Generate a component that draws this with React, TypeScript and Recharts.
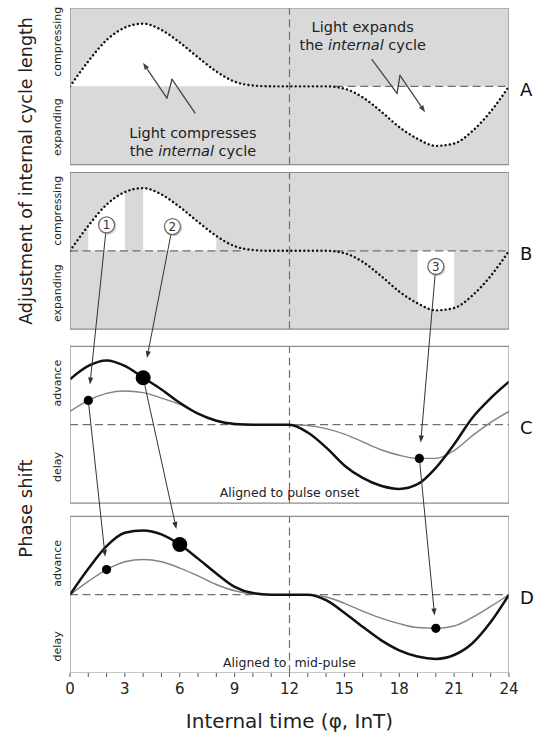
import React from 'react';
import {
    ComposedChart,
    Line,
    Area,
    XAxis,
    YAxis,
    ReferenceLine,
    ReferenceDot,
} from 'recharts';

const hours = [0, 1, 2, 3, 4, 5, 6, 7, 8, 9, 10, 11, 12, 13, 14, 15, 16, 17, 18, 19, 20, 21, 22, 23, 24];

// light-driven adjustment of the internal cycle (+ compressing, - expanding)
const cycleAdjustment = [0, 0.32, 0.59, 0.75, 0.8, 0.72, 0.56, 0.37, 0.19, 0.06, 0.01, 0, 0, 0, 0, -0.03, -0.14, -0.32, -0.52, -0.67, -0.76, -0.73, -0.57, -0.32, 0];

// phase shift, aligned to pulse onset
const onsetLongPulse = [0.58, 0.75, 0.82, 0.75, 0.6, 0.45, 0.28, 0.14, 0.05, 0.01, 0, 0, 0, -0.1, -0.29, -0.52, -0.68, -0.78, -0.82, -0.76, -0.55, -0.25, 0.09, 0.34, 0.55];
const onsetShortPulse = [0.17, 0.31, 0.4, 0.43, 0.41, 0.34, 0.26, 0.14, 0.05, 0.01, 0, 0, 0, -0.01, -0.05, -0.12, -0.22, -0.32, -0.39, -0.43, -0.43, -0.33, -0.14, 0.03, 0.17];

// phase shift, aligned to mid-pulse
const midLongPulse = [0, 0.33, 0.62, 0.79, 0.82, 0.77, 0.64, 0.46, 0.27, 0.1, 0.02, 0, 0, 0, -0.07, -0.23, -0.41, -0.58, -0.71, -0.79, -0.82, -0.77, -0.62, -0.35, 0];
const midShortPulse = [0, 0.17, 0.32, 0.42, 0.45, 0.42, 0.34, 0.24, 0.13, 0.05, 0.01, 0, 0, 0, -0.03, -0.11, -0.21, -0.3, -0.37, -0.42, -0.43, -0.4, -0.29, -0.15, 0];

// the three example pulses
const pulseStart = [1, 4, 19];
const pulseEnd = [3, 8, 21];
const pulseLabels = ['1', '2', '3'];
const pulseBadgeTime = [2, 5.6, 20];
const pulseBadgeValue = [0.33, 0.31, -0.2];

const onsetDotTime = [1, 4, 19.1];
const onsetDotValue = [0.31, 0.6, -0.43];
const midDotTime = [2, 6, 20];
const midDotValue = [0.32, 0.64, -0.43];
const dotIsLong = [false, true, false];

const labelledHours = [0, 3, 6, 9, 12, 15, 18, 21, 24];

// vertical stacking of the four panels on one shared y scale
type PanelId = 'A' | 'B' | 'C' | 'D';
const PANEL: Record<PanelId, number> = { A: 6.49, B: 4.39, C: 2.17, D: 0 };
const Y_DOMAIN: [number, number] = [-1, 7.49];
const lift = (p: PanelId, v: number) => PANEL[p] + v;

const FONT = 'DejaVu Sans';
const GRAY_BG = '#d9d9d9';
const BORDER = '#8c8c8c';
const DASH = '#6f6f6f';
const DASH_PATTERN = '8 4.5';
const INK = '#111';
const THIN = '#828282';
const ARROW = '#333';

const curveRows = (p: PanelId, values: number[]) =>
    hours.map((t, i) => ({ t, y: lift(p, values[i]) }));

const bandRows = (p: PanelId, values: number[], from = 0, to = 24) =>
    hours
        .map((t, i) => ({ t, band: [lift(p, 0), lift(p, values[i])] }))
        .filter((r) => r.t >= from && r.t <= to);

const boxRows = (p: PanelId) => {
    const c = PANEL[p];
    return [
        { t: 0, y: c - 1 },
        { t: 24, y: c - 1 },
        { t: 24, y: c + 1 },
        { t: 0, y: c + 1 },
        { t: 0, y: c - 1 },
    ];
};

const fillRows = (p: PanelId) => {
    const c = PANEL[p];
    return [
        { t: 0, band: [c - 1, c + 1] },
        { t: 24, band: [c - 1, c + 1] },
    ];
};

const badgeRows = pulseLabels.map((n, i) => ({ t: pulseBadgeTime[i], y: lift('B', pulseBadgeValue[i]), n }));
const onsetDotRows = onsetDotTime.map((t, i) => ({ t, y: lift('C', onsetDotValue[i]), big: dotIsLong[i] }));
const midDotRows = midDotTime.map((t, i) => ({ t, y: lift('D', midDotValue[i]), big: dotIsLong[i] }));

// rotated labels along the left edge
const sideLabels = [
    { value: lift('A', 0.57), text: 'compressing', x: 58, size: 11 },
    { value: lift('A', -0.52), text: 'expanding', x: 58, size: 11 },
    { value: lift('B', 0.51), text: 'compressing', x: 58, size: 11 },
    { value: lift('B', -0.54), text: 'expanding', x: 58, size: 11 },
    { value: lift('C', 0.53), text: 'advance', x: 58, size: 11 },
    { value: lift('C', -0.54), text: 'delay', x: 58, size: 11 },
    { value: lift('D', 0.4), text: 'advance', x: 58, size: 11 },
    { value: lift('D', -0.66), text: 'delay', x: 58, size: 11 },
    { value: 5.41, text: 'Adjustment of internal cycle length', x: 26, size: 17.5 },
    { value: 1.1, text: 'Phase shift', x: 26, size: 18 },
];

const panelIds: PanelId[] = ['A', 'B', 'C', 'D'];

// lightning-style arrows in panel A (time, value in panel A units)
const boltLeft = [
    [6.83, -0.34],
    [5.58, 0.09],
    [5.3, -0.15],
    [3.99, 0.3],
];
const boltRight = [
    [16.51, 0.34],
    [17.88, -0.09],
    [18.04, 0.14],
    [19.41, -0.33],
];

function arrowShape(startGap: number, endGap: number, color = ARROW, width = 1) {
    return (props: any) => {
        const { x1, y1, x2, y2 } = props;
        const dx = x2 - x1;
        const dy = y2 - y1;
        const len = Math.hypot(dx, dy) || 1;
        const ux = dx / len;
        const uy = dy / len;
        const sx = x1 + ux * startGap;
        const sy = y1 + uy * startGap;
        const ex = x2 - ux * endGap;
        const ey = y2 - uy * endGap;
        const hl = 7;
        const hw = 2.6;
        const bx = ex - ux * hl;
        const by = ey - uy * hl;
        return (
            <g>
                <line x1={sx} y1={sy} x2={bx} y2={by} stroke={color} strokeWidth={width} strokeLinecap="round" />
                <polygon
                    points={`${ex},${ey} ${bx - uy * hw},${by + ux * hw} ${bx + uy * hw},${by - ux * hw}`}
                    fill={color}
                />
            </g>
        );
    };
}

const SideTick = (props: any) => {
    const { y, payload } = props;
    const lab = sideLabels.find((l) => Math.abs(l.value - payload.value) < 1e-6);
    if (!lab) return <g />;
    return (
        <text
            x={lab.x}
            y={y}
            transform={`rotate(-90, ${lab.x}, ${y})`}
            textAnchor="middle"
            dominantBaseline="central"
            fontFamily={FONT}
            fontSize={lab.size}
            fill="#222"
        >
            {lab.text}
        </text>
    );
};

const LetterTick = (props: any) => {
    const { y, index } = props;
    return (
        <text x={520} y={y + 3} dominantBaseline="central" fontFamily={FONT} fontSize={18} fill="#111">
            {panelIds[index]}
        </text>
    );
};

const TimeTick = (props: any) => {
    const { x, y, payload } = props;
    if (!labelledHours.includes(payload.value)) return <g />;
    return (
        <text x={x} y={y} dy={15} textAnchor="middle" fontFamily={FONT} fontSize={15} fill="#222">
            {payload.value}
        </text>
    );
};

const Badge = (props: any) => {
    const { cx, cy, payload, index } = props;
    return (
        <g key={`badge-${index}`}>
            <circle cx={cx + 1} cy={cy + 1.2} r={8.6} fill="#9a9a9a" opacity={0.45} />
            <circle cx={cx} cy={cy} r={8} fill="#fff" stroke="#6c6c6c" strokeWidth={1.3} />
            <text x={cx} y={cy} dy={0.5} textAnchor="middle" dominantBaseline="central" fontFamily={FONT} fontSize={12} fill="#333">
                {payload.n}
            </text>
        </g>
    );
};

const PulseDot = (props: any) => {
    const { cx, cy, payload, index } = props;
    return <circle key={`dot-${index}`} cx={cx} cy={cy} r={payload.big ? 7.5 : 4.6} fill="#000" />;
};

const noteShape = (first: React.ReactNode, second: React.ReactNode, size: number) => (p: any) => (
    <text x={p.cx} y={p.cy} textAnchor="middle" dominantBaseline="central" fontFamily={FONT} fontSize={size} fill="#222">
        <tspan x={p.cx}>{first}</tspan>
        <tspan x={p.cx} dy={18}>
            {second}
        </tspan>
    </text>
);

export default function App() {
    let z = 1;
    const nz = () => z++;

    return (
        <div style={{ position: 'absolute', left: 0, top: 0, width: 537, height: 736, background: '#fff' }}>
            <ComposedChart width={537} height={736} margin={{ top: 8, right: 0, bottom: 0, left: 0 }} style={{ fontFamily: FONT }}>
                <XAxis
                    dataKey="t"
                    type="number"
                    domain={[0, 24]}
                    allowDataOverflow
                    ticks={hours}
                    interval={0}
                    height={63}
                    axisLine={false}
                    tickLine={{ stroke: '#555' }}
                    tickSize={4}
                    tick={<TimeTick />}
                    label={{ value: 'Internal time (φ, InT)', position: 'insideBottom', offset: 8, fontSize: 20, fill: '#222', fontFamily: FONT }}
                />
                <YAxis
                    type="number"
                    domain={Y_DOMAIN}
                    allowDataOverflow
                    width={70}
                    ticks={sideLabels.map((l) => l.value)}
                    interval={0}
                    axisLine={false}
                    tickLine={false}
                    tick={<SideTick />}
                />
                <YAxis
                    yAxisId="letters"
                    orientation="right"
                    type="number"
                    domain={Y_DOMAIN}
                    allowDataOverflow
                    width={28}
                    ticks={panelIds.map((p) => PANEL[p])}
                    interval={0}
                    axisLine={false}
                    tickLine={false}
                    tick={<LetterTick />}
                />

                {/* panel backgrounds */}
                <Area data={fillRows('A')} dataKey="band" type="linear" fill={GRAY_BG} fillOpacity={1} stroke="none" isAnimationActive={false} zIndex={nz()} />
                <Area data={fillRows('B')} dataKey="band" type="linear" fill={GRAY_BG} fillOpacity={1} stroke="none" isAnimationActive={false} zIndex={nz()} />

                {/* panel A: whole response window; panel B: only inside the pulses */}
                <Area data={bandRows('A', cycleAdjustment)} dataKey="band" type="monotone" fill="#fff" fillOpacity={1} stroke="none" isAnimationActive={false} zIndex={nz()} />
                {pulseStart.map((s, i) => (
                    <Area
                        key={`pulse-${i}`}
                        data={bandRows('B', cycleAdjustment, s, pulseEnd[i])}
                        dataKey="band"
                        type="monotone"
                        fill="#fff"
                        fillOpacity={1}
                        stroke="none"
                        isAnimationActive={false}
                        zIndex={nz()}
                    />
                ))}

                {/* dashed zero lines and the dashed line at 12 */}
                <ReferenceLine segment={[{ x: 14.5, y: lift('A', 0) }, { x: 24, y: lift('A', 0) }]} stroke={DASH} strokeDasharray={DASH_PATTERN} strokeWidth={1.2} zIndex={nz()} />
                <ReferenceLine segment={[{ x: 0, y: lift('B', 0) }, { x: 9.5, y: lift('B', 0) }]} stroke={DASH} strokeDasharray={DASH_PATTERN} strokeWidth={1.2} zIndex={nz()} />
                <ReferenceLine segment={[{ x: 14.5, y: lift('B', 0) }, { x: 24, y: lift('B', 0) }]} stroke={DASH} strokeDasharray={DASH_PATTERN} strokeWidth={1.2} zIndex={nz()} />
                <ReferenceLine segment={[{ x: 0, y: lift('C', 0) }, { x: 24, y: lift('C', 0) }]} stroke={DASH} strokeDasharray={DASH_PATTERN} strokeWidth={1.2} zIndex={nz()} />
                <ReferenceLine segment={[{ x: 0, y: lift('D', 0) }, { x: 24, y: lift('D', 0) }]} stroke={DASH} strokeDasharray={DASH_PATTERN} strokeWidth={1.2} zIndex={nz()} />
                {panelIds.map((p) => (
                    <ReferenceLine
                        key={`mid-${p}`}
                        segment={[{ x: 12, y: PANEL[p] - 1 }, { x: 12, y: PANEL[p] + 1 }]}
                        stroke={DASH}
                        strokeDasharray={DASH_PATTERN}
                        strokeWidth={1.2}
                        zIndex={nz()}
                    />
                ))}

                {/* curves */}
                <Line data={curveRows('A', cycleAdjustment)} dataKey="y" type="monotone" stroke={INK} strokeWidth={2.4} strokeDasharray="0.1 4.2" strokeLinecap="round" dot={false} activeDot={false} isAnimationActive={false} zIndex={nz()} />
                <Line data={curveRows('B', cycleAdjustment)} dataKey="y" type="monotone" stroke={INK} strokeWidth={2.4} strokeDasharray="0.1 4.2" strokeLinecap="round" dot={false} activeDot={false} isAnimationActive={false} zIndex={nz()} />
                <Line data={curveRows('C', onsetShortPulse)} dataKey="y" type="monotone" stroke={THIN} strokeWidth={1.4} dot={false} activeDot={false} isAnimationActive={false} zIndex={nz()} />
                <Line data={curveRows('C', onsetLongPulse)} dataKey="y" type="monotone" stroke={INK} strokeWidth={2.5} dot={false} activeDot={false} isAnimationActive={false} zIndex={nz()} />
                <Line data={curveRows('D', midShortPulse)} dataKey="y" type="monotone" stroke={THIN} strokeWidth={1.4} dot={false} activeDot={false} isAnimationActive={false} zIndex={nz()} />
                <Line data={curveRows('D', midLongPulse)} dataKey="y" type="monotone" stroke={INK} strokeWidth={2.5} dot={false} activeDot={false} isAnimationActive={false} zIndex={nz()} />

                {/* panel frames */}
                {panelIds.map((p) => (
                    <Line
                        key={`box-${p}`}
                        data={boxRows(p)}
                        dataKey="y"
                        type="linear"
                        stroke={BORDER}
                        strokeWidth={1.2}
                        dot={false}
                        activeDot={false}
                        isAnimationActive={false}
                        zIndex={nz()}
                    />
                ))}

                {/* arrows from the pulses to their phase shifts */}
                {pulseLabels.map((_, i) => (
                    <ReferenceLine
                        key={`arrow-bc-${i}`}
                        segment={[{ x: badgeRows[i].t, y: badgeRows[i].y }, { x: onsetDotRows[i].t, y: onsetDotRows[i].y }]}
                        shape={arrowShape(8.5, dotIsLong[i] ? 20 : 16)}
                        zIndex={nz()}
                    />
                ))}
                {pulseLabels.map((_, i) => (
                    <ReferenceLine
                        key={`arrow-cd-${i}`}
                        segment={[{ x: onsetDotRows[i].t, y: onsetDotRows[i].y }, { x: midDotRows[i].t, y: midDotRows[i].y }]}
                        shape={arrowShape(dotIsLong[i] ? 8 : 5, dotIsLong[i] ? 16 : 13)}
                        zIndex={nz()}
                    />
                ))}

                {/* lightning arrows */}
                {[boltLeft, boltRight].map((bolt, b) =>
                    bolt.slice(0, -1).map((pt, k) => (
                        <ReferenceLine
                            key={`bolt-${b}-${k}`}
                            segment={[{ x: pt[0], y: lift('A', pt[1]) }, { x: bolt[k + 1][0], y: lift('A', bolt[k + 1][1]) }]}
                            shape={k === bolt.length - 2 ? arrowShape(0, 0, '#444', 1.3) : undefined}
                            stroke="#444"
                            strokeWidth={1.3}
                            strokeLinecap="round"
                            zIndex={nz()}
                        />
                    )),
                )}

                {/* dots and pulse badges */}
                <Line data={onsetDotRows} dataKey="y" type="linear" stroke="none" dot={<PulseDot />} activeDot={false} isAnimationActive={false} zIndex={nz()} />
                <Line data={midDotRows} dataKey="y" type="linear" stroke="none" dot={<PulseDot />} activeDot={false} isAnimationActive={false} zIndex={nz()} />
                <Line data={badgeRows} dataKey="y" type="linear" stroke="none" dot={<Badge />} activeDot={false} isAnimationActive={false} zIndex={nz()} />

                {/* text notes */}
                <ReferenceDot
                    x={6.72}
                    y={lift('A', -0.6)}
                    r={0}
                    ifOverflow="visible"
                    shape={noteShape('Light compresses', <>the <tspan fontStyle="italic">internal</tspan> cycle</>, 14.5)}
                    zIndex={nz()}
                />
                <ReferenceDot
                    x={16}
                    y={lift('A', 0.76)}
                    r={0}
                    ifOverflow="visible"
                    shape={noteShape('Light expands', <>the <tspan fontStyle="italic">internal</tspan> cycle</>, 14.5)}
                    zIndex={nz()}
                />
                <ReferenceDot
                    x={12}
                    y={lift('C', -0.86)}
                    r={0}
                    ifOverflow="visible"
                    shape={(p: any) => (
                        <text x={p.cx} y={p.cy} textAnchor="middle" dominantBaseline="central" fontFamily={FONT} fontSize={12.5} fill="#222">
                            Aligned to pulse onset
                        </text>
                    )}
                    zIndex={nz()}
                />
                <ReferenceDot
                    x={12}
                    y={lift('D', -0.86)}
                    r={0}
                    ifOverflow="visible"
                    shape={(p: any) => (
                        <text x={p.cx} y={p.cy} textAnchor="middle" dominantBaseline="central" fontFamily={FONT} fontSize={12.5} fill="#222" style={{ whiteSpace: 'pre' }}>
                            {'Aligned to  mid-pulse'}
                        </text>
                    )}
                    zIndex={nz()}
                />
            </ComposedChart>
        </div>
    );
}
